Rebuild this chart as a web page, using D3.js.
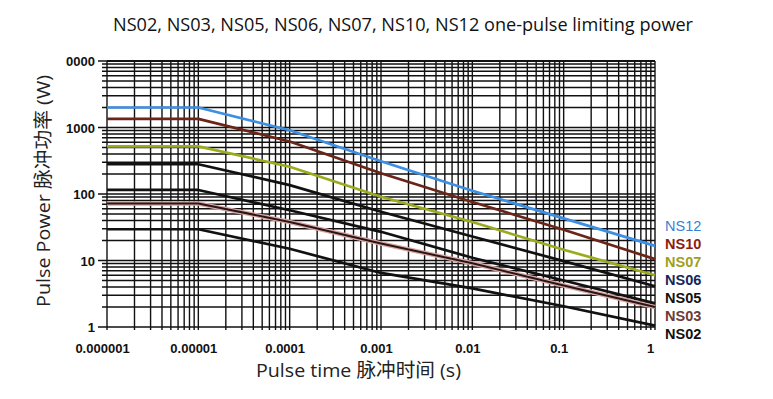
<html>
<head>
<meta charset="utf-8">
<script src="https://d3js.org/d3.v7.min.js"></script>
<style>
  body { margin: 0; background: #fff; }
</style>
</head>
<body>
<div id="chart"></div>
<script>
// pulse times (s) read at each decade
var times = [1e-6, 1e-5, 1e-4, 1e-3, 1e-2, 1e-1, 1];

// limiting power (W) per part
var ns12 = [2000, 2000, 910, 310, 112, 43, 16.6];
var ns10 = [1350, 1350, 615, 205, 76, 29, 10.5];
var ns07 = [520, 520, 257, 91, 38, 14.5, 6.0];
var ns06 = [280, 280, 136, 54, 23, 9.8, 4.1];
var ns05 = [115, 115, 57, 27, 11, 5.0, 2.27];
var ns03 = [72, 72, 38, 18, 9.1, 4.2, 2.0];
var ns02 = [29.5, 29.5, 15, 6.5, 3.8, 2.05, 1.05];

var seriesNames = ["NS12", "NS10", "NS07", "NS06", "NS05", "NS03", "NS02"];
var seriesValues = [ns12, ns10, ns07, ns06, ns05, ns03, ns02];

var xTickValues = [1e-6, 1e-5, 1e-4, 1e-3, 1e-2, 1e-1, 1];
var xTickLabels = ["0.000001", "0.00001", "0.0001", "0.001", "0.01", "0.1", "1"];
var yTickValues = [1, 10, 100, 1000, 10000];
var yTickLabels = ["1", "10", "100", "1000", "0000"];

var titleText = "NS02, NS03, NS05, NS06, NS07, NS10, NS12 one-pulse limiting power";
var xTitle = "Pulse time  脉冲时间 (s)";
var yTitle = "Pulse Power  脉冲功率 (W)";

// styling
var lineColors = {NS12: "#3d8fe3", NS10: "#6a2418", NS07: "#9bab1f", NS06: "#111", NS05: "#111", NS03: "#2a1515", NS02: "#111"};
var labelColors = {NS12: "#3b7fd0", NS10: "#8c1d12", NS07: "#a0a01c", NS06: "#14285a", NS05: "#111", NS03: "#6e3a3a", NS02: "#111"};
var labelWeight = {NS12: 500, NS10: 700, NS07: 700, NS06: 700, NS05: 700, NS03: 600, NS02: 700};

var W = 773, H = 399;
var margin = {top: 61, right: 118, bottom: 72, left: 107},
    width = W - margin.left - margin.right,
    height = H - margin.top - margin.bottom;

var svg = d3.select("#chart").append("svg")
    .attr("width", W)
    .attr("height", H);

var g = svg.append("g")
    .attr("transform", "translate(" + margin.left + "," + margin.top + ")");

var x = d3.scaleLog().domain([1e-6, 1]).range([0, width]);
var y = d3.scaleLog().domain([1, 10000]).range([height, 0]);

// all grid positions: 1..9 in each decade
var xGrid = [], yGrid = [];
for (var d = -6; d < 0; d++) for (var m = 1; m < 10; m++) xGrid.push(m * Math.pow(10, d));
xGrid.push(1);
for (var d2 = 0; d2 < 4; d2++) for (var m2 = 1; m2 < 10; m2++) yGrid.push(m2 * Math.pow(10, d2));
yGrid.push(10000);

// vertical grid
g.append("g").selectAll("line").data(xGrid).enter().append("line")
  .attr("x1", function(v) { return x(v); })
  .attr("x2", function(v) { return x(v); })
  .attr("y1", 0)
  .attr("y2", height + 3)
  .attr("stroke", "#111")
  .attr("stroke-width", 1.4);

// horizontal grid
g.append("g").selectAll("line").data(yGrid).enter().append("line")
  .attr("x1", function(v) { return yTickValues.indexOf(v) >= 0 ? -9 : -5; })
  .attr("x2", width)
  .attr("y1", function(v) { return y(v); })
  .attr("y2", function(v) { return y(v); })
  .attr("stroke", "#111")
  .attr("stroke-width", 1.4);

// frame top a bit heavier
g.append("line").attr("x1", 0).attr("x2", width).attr("y1", y(10000)).attr("y2", y(10000))
  .attr("stroke", "#111").attr("stroke-width", 2);

// axes labels (no lines, grid already drawn)
var xAxis = g.append("g")
  .attr("transform", "translate(0," + height + ")")
  .call(d3.axisBottom(x).tickValues(xTickValues).tickSize(0)
        .tickFormat(function(v, i) { return xTickLabels[i]; }));
xAxis.select(".domain").remove();
xAxis.selectAll("text")
  .attr("dy", 0).attr("y", 26).attr("dx", -5)
  .style("font-family", "Liberation Sans, Arial, sans-serif")
  .style("font-weight", "bold").style("font-size", "13px").attr("fill", "#111");

var yAxis = g.append("g")
  .call(d3.axisLeft(y).tickValues(yTickValues).tickSize(0)
        .tickFormat(function(v, i) { return yTickLabels[i]; }));
yAxis.select(".domain").remove();
yAxis.selectAll("text")
  .attr("x", -12).attr("dy", "0.35em")
  .style("font-family", "Liberation Sans, Arial, sans-serif")
  .style("font-weight", "bold").style("font-size", "13px").attr("fill", "#111");

// curves
var line = d3.line()
  .x(function(d, i) { return x(times[i]); })
  .y(function(d) { return y(d); });

// pink halo under NS03
g.append("path").datum(ns03)
  .attr("d", line).attr("fill", "none")
  .attr("stroke", "#d9a7a4").attr("stroke-width", 4.5);

seriesNames.slice().reverse().forEach(function(name) {
  var vals = seriesValues[seriesNames.indexOf(name)];
  g.append("path").datum(vals)
    .attr("d", line)
    .attr("fill", "none")
    .attr("stroke", lineColors[name])
    .attr("stroke-width", name === "NS03" ? 2 : 2.7)
    .attr("stroke-linejoin", "round");
});

// legend labels stacked at right end
svg.append("g").selectAll("text").data(seriesNames).enter().append("text")
  .attr("x", 665)
  .attr("y", function(d, i) { return 231 + i * 18; })
  .text(function(d) { return d; })
  .attr("fill", function(d) { return labelColors[d]; })
  .style("font-family", "Liberation Sans, Arial, sans-serif")
  .style("font-weight", function(d) { return labelWeight[d]; })
  .style("font-size", "14.5px");

// title
svg.append("text")
  .attr("x", 113).attr("y", 31)
  .attr("textLength", 580).attr("lengthAdjust", "spacingAndGlyphs")
  .text(titleText)
  .attr("fill", "#111")
  .style("font-family", "Open Sans, Noto Sans, sans-serif")
  .style("font-size", "19px");

// x title
svg.append("text")
  .attr("x", 256).attr("y", 377)
  .attr("textLength", 205).attr("lengthAdjust", "spacingAndGlyphs")
  .text(xTitle)
  .attr("fill", "#222")
  .style("font-family", "Open Sans, Noto Sans CJK SC, sans-serif")
  .style("font-size", "19px");

// y title
svg.append("text")
  .attr("transform", "translate(50,307) rotate(-90)")
  .attr("textLength", 232).attr("lengthAdjust", "spacingAndGlyphs")
  .text(yTitle)
  .attr("fill", "#222")
  .style("font-family", "Open Sans, Noto Sans CJK SC, sans-serif")
  .style("font-size", "19px");
</script>
</body>
</html>
